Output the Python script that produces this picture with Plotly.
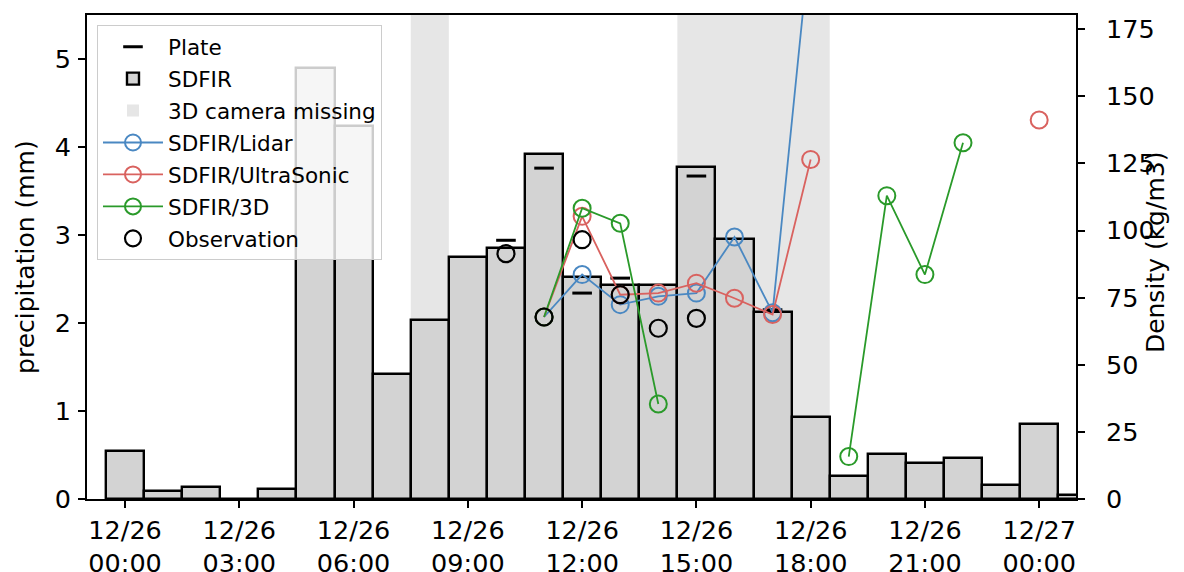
import pandas as pd
import plotly.graph_objects as go
from plotly.subplots import make_subplots

# ---------------- data ----------------
hours = pd.date_range("2023-12-26 00:00", periods=26, freq="h")

sdfir_mm = [0.54, 0.09, 0.14, 0.0, 0.11, 4.90, 4.24, 1.42, 2.03, 2.75, 2.85, 3.92, 2.52,
            2.43, 2.43, 3.77, 2.95, 2.13, 0.93, 0.26, 0.51, 0.41, 0.47, 0.16, 0.85, 0.05]

N = None
plate_mm = [N, N, N, N, N, N, N, N, N, N, 2.94, 3.76, 2.34,
            2.51, N, 3.67, N, 2.15, N, N, N, N, N, N, N, N]

lidar_density = [N, N, N, N, N, N, N, N, N, N, N, 67.8, 83.6,
                 72.4, 75.5, 76.7, 97.6, 69.4, 210.0, N, N, N, N, N, N, N]
ultrasonic_density = [N, N, N, N, N, N, N, N, N, N, N, 67.8, 105.3,
                      76.1, 76.7, 80.4, 74.8, 68.7, 126.5, N, N, N, N, N, 141.2, N]
threed_density = [N, N, N, N, N, N, N, N, N, N, N, 67.8, 108.3,
                  102.7, 35.4, N, N, N, N, 15.8, 113.0, 83.6, 132.7, N, N, N]
observation_density = [N, N, N, N, N, N, N, N, N, N, 91.4, 67.8, 96.6,
                       76.1, 63.6, 67.3, N, N, N, N, N, N, N, N, N, N]

missing_start = ["2023-12-26 07:30", "2023-12-26 14:30"]
missing_end = ["2023-12-26 08:30", "2023-12-26 18:30"]

x_range = ["2023-12-25 23:00", "2023-12-27 00:58"]

left_title = "precipitation (mm)"
right_title = "Density (kg/m3)"

# ---------------- figure ----------------
FONT = "DejaVu Sans"
BLUE = "#4a88c2"
RED = "#d9625f"
GREEN = "#2a9a2a"

fig = make_subplots(specs=[[{"secondary_y": True}]])

fig.add_trace(go.Scatter(
    x=hours, y=plate_mm, mode="markers", name="Plate", legendgroup="a",
    marker=dict(symbol="line-ew", size=14, color="black", line=dict(width=3, color="black")),
), secondary_y=False)

fig.add_trace(go.Bar(
    x=hours, y=sdfir_mm, name="SDFIR", legendgroup="b", width=3600 * 1000,
    marker=dict(color="#d3d3d3", line=dict(color="black", width=2.4)),
), secondary_y=False)

fig.add_trace(go.Bar(
    x=[None], y=[None], name="3D camera missing", legendgroup="c",
    marker=dict(color="#e6e6e6", line=dict(width=0)),
), secondary_y=False)

for name, vals, col, grp in [("SDFIR/Lidar", lidar_density, BLUE, "d"),
                             ("SDFIR/UltraSonic", ultrasonic_density, RED, "e"),
                             ("SDFIR/3D", threed_density, GREEN, "f")]:
    fig.add_trace(go.Scatter(
        x=hours, y=vals, mode="lines+markers", name=name, legendgroup=grp,
        connectgaps=False,
        line=dict(color=col, width=1.8),
        marker=dict(symbol="circle-open", size=17, color=col, line=dict(width=2)),
    ), secondary_y=True)

fig.add_trace(go.Scatter(
    x=hours, y=observation_density, mode="markers", name="Observation", legendgroup="g",
    marker=dict(symbol="circle-open", size=17, color="black", line=dict(width=2.2)),
), secondary_y=True)

for s, e in zip(missing_start, missing_end):
    fig.add_shape(type="rect", xref="x", yref="y domain", x0=s, x1=e, y0=0, y1=1,
                  fillcolor="#e6e6e6", line=dict(width=0), layer="below")

axis_common = dict(showline=True, linecolor="black", linewidth=1.8, ticks="outside",
                   ticklen=7, tickwidth=1.8, tickcolor="black", showgrid=False,
                   zeroline=False, tickfont=dict(family=FONT, size=25.5, color="black"))

fig.update_xaxes(range=x_range, type="date", tick0="2023-12-26 00:00", dtick=3 * 3600 * 1000,
                 tickformat="%m/%d<br>%H:%M", mirror=True, ticklabelstandoff=0,
                 domain=[0, 1], **axis_common)
fig.update_yaxes(range=[0, 5.5], dtick=1, secondary_y=False, ticklabelstandoff=2,
                 **axis_common)
fig.update_yaxes(range=[0, 180.3], dtick=25, secondary_y=True, ticklabelstandoff=16,
                 **axis_common)

# axis titles
title_font = dict(family=FONT, size=25, color="black")
fig.add_annotation(text=left_title, xref="paper", yref="paper", x=-0.0597, y=0.5,
                   xanchor="center", yanchor="middle", textangle=-90, showarrow=False,
                   xshift=-3, font=title_font)
fig.add_annotation(text=right_title, xref="paper", yref="paper", x=1.095, y=0.51,
                   xanchor="center", yanchor="middle", textangle=-90, showarrow=False,
                   xshift=-15, font=title_font)

# page body has an 8px margin: figure sized/offset so the plot area lands where the reference's does
fig.update_layout(
    width=1176, height=564,
    margin=dict(l=79, r=108, t=7, b=73, autoexpand=False),
    plot_bgcolor="white", paper_bgcolor="white",
    barmode="overlay", bargap=0,
    font=dict(family=FONT, color="black"),
    legend=dict(x=0.0101, y=0.979, xanchor="left", yanchor="top",
                bgcolor="rgba(255,255,255,0.8)", bordercolor="#cccccc", borderwidth=1,
                font=dict(family=FONT, size=21.5, color="black"),
                traceorder="grouped", tracegroupgap=1, itemwidth=60),
)

fig.write_html("out.html")
